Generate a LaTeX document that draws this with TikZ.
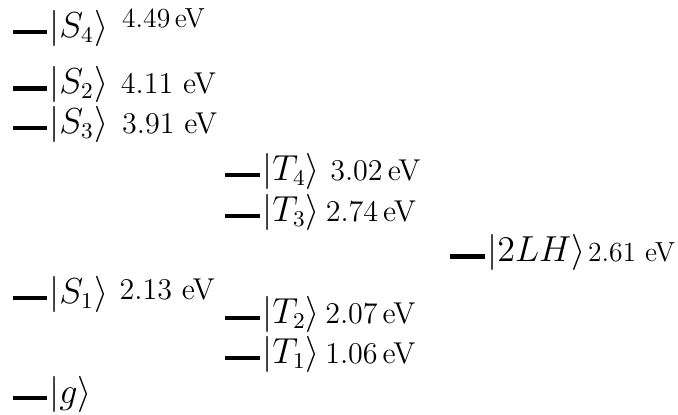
\documentclass[tikz,border=0pt]{standalone}
\usepackage{amsmath,amssymb}
\usepackage{tikz}
\usetikzlibrary{positioning}
\newcommand{\kst}[1]{|#1\rangle}
\tikzset{
  lvl/.style ={draw=black, line width=1.8pt, line cap=butt},
  kt/.style  ={font=\fontsize{13.5pt}{16pt}\selectfont, inner sep=0pt, anchor=base west, yshift=-2pt},
  en/.style  ={font=\fontsize{12pt}{14pt}\selectfont, inner sep=0pt},
  ens/.style ={font=\fontsize{12pt}{14pt}\selectfont, inner sep=0pt},
}
\begin{document}
\begin{tikzpicture}
  \useasboundingbox (0,0) rectangle (9.492,5.81);
  % singlets
  \draw[lvl] (0.18,5.362) -- (0.66,5.362) node[kt] (ks4) {$\kst{S_4}$};
  \node[ens, font=\fontsize{11pt}{13pt}\selectfont, base right=4.5pt of ks4, yshift=3.8pt] (es4) {4.49\,eV};
  \draw[lvl] (0.18,4.571) -- (0.66,4.571) node[kt] (ks2) {$\kst{S_2}$};
  \node[en, base right=4pt of ks2] (es2) {4.11 eV};
  \draw[lvl] (0.18,4.018) -- (0.66,4.018) node[kt] (ks3) {$\kst{S_3}$};
  \node[en, base right=4.5pt of ks3] (es3) {3.91 eV};
  \draw[lvl] (0.18,1.638) -- (0.66,1.638) node[kt] (ks1) {$\kst{S_1}$};
  \node[en, base right=3.5pt of ks1, yshift=1.5pt] (es1) {2.13 eV};
  \draw[lvl] (0.18,0.238) -- (0.66,0.238) node[kt] (kg) {$\kst{g}$};
  % triplets
  \draw[lvl] (3.15,3.360) -- (3.64,3.360) node[kt] (kt4) {$\kst{T_4}$};
  \node[ens, base right=3pt of kt4] (et4) {3.02\,eV};
  \draw[lvl] (3.15,2.786) -- (3.64,2.786) node[kt] (kt3) {$\kst{T_3}$};
  \node[ens, base right=1.2pt of kt3] (et3) {2.74\,eV};
  \draw[lvl] (3.15,1.358) -- (3.64,1.358) node[kt] (kt2) {$\kst{T_2}$};
  \node[ens, base right=1pt of kt2] (et2) {2.07\,eV};
  \draw[lvl] (3.15,0.798) -- (3.64,0.798) node[kt] (kt1) {$\kst{T_1}$};
  \node[ens, base right=1pt of kt1] (et1) {1.06\,eV};
  % 2LH
  \draw[lvl] (6.30,2.222) -- (6.79,2.222) node[kt] (klh) {$\kst{2LH}$};
  \node[ens, font=\fontsize{11pt}{13pt}\selectfont, base right=0pt of klh] (elh) {2.61 eV};
\end{tikzpicture}
\end{document}
